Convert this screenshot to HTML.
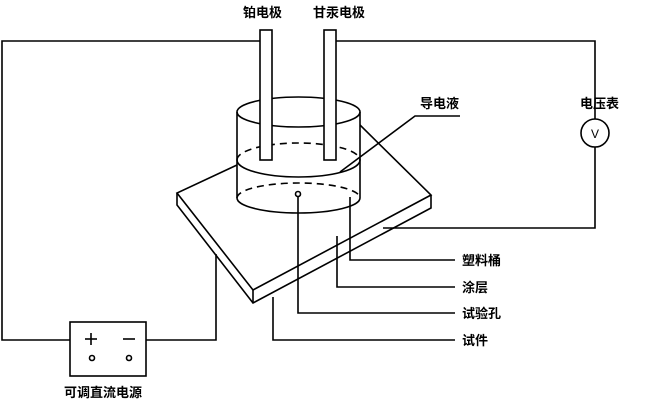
<!DOCTYPE html>
<html><head><style>
html,body{margin:0;padding:0;background:#fff;}
svg{display:block}
text{font-family:"Liberation Sans","Noto Sans CJK SC",sans-serif;font-size:13px;font-weight:bold;fill:#000}
</style></head><body>
<svg width="651" height="401" viewBox="0 0 651 401" xmlns="http://www.w3.org/2000/svg">
<g fill="none" stroke="#000" stroke-width="1.6">
<!-- wires -->
<polyline points="260,41 2,41 2,340 70,340"/>
<polyline points="336,41 595,41 595,119"/>
<polyline points="595,147 595,228 383,228"/>
<circle cx="595" cy="133" r="14"/>
<polyline points="146,340 216,340 216,254"/>
<!-- plate -->
<polyline points="237,165 177,193 253,290 431,195 360,125"/>
<polyline points="177,193 177,205 253,303 431,208 431,195"/>
<line x1="253" y1="290" x2="253" y2="303"/>
<!-- cylinder -->
<line x1="237" y1="112" x2="237" y2="198"/>
<line x1="360" y1="112" x2="360" y2="198"/>
<ellipse cx="298.5" cy="112" rx="61.5" ry="15"/>
<path d="M237,160 A61.5,17 0 0 0 360,160"/>
<path d="M237,160 A61.5,17 0 0 1 360,160" stroke-dasharray="7,5"/>
<path d="M237,198 A61.5,15 0 0 0 360,198"/>
<path d="M237,198 A61.5,15 0 0 1 360,198" stroke-dasharray="7,5"/>
<!-- electrodes -->
<rect x="260" y="30" width="12" height="130" fill="#fff"/>
<rect x="324" y="30" width="12" height="130" fill="#fff"/>
<!-- hole -->
<circle cx="298" cy="194" r="2.5"/>
<!-- leaders -->
<polyline points="340,172 415,116 460,116"/>
<polyline points="350,197 350,260 455,260"/>
<polyline points="337,236 337,287 455,287"/>
<polyline points="298,197 298,313 455,313"/>
<polyline points="273,297 273,340 455,340"/>
<!-- power supply -->
<rect x="70" y="322" width="76" height="54"/>
<circle cx="92" cy="358" r="2.5"/>
<circle cx="129" cy="358" r="2.5"/>
<line x1="85" y1="339" x2="97" y2="339"/>
<line x1="91" y1="333" x2="91" y2="345"/>
<line x1="123" y1="339" x2="135" y2="339"/>
</g>
<text x="595" y="138" text-anchor="middle" style="font-weight:normal;font-size:12px">V</text>
<text x="243" y="17">铂电极</text>
<text x="313" y="17">甘汞电极</text>
<text x="420" y="108">导电液</text>
<text x="580" y="108">电压表</text>
<text x="462" y="265">塑料桶</text>
<text x="462" y="292">涂层</text>
<text x="462" y="318">试验孔</text>
<text x="462" y="345">试件</text>
<text x="64" y="397">可调直流电源</text>
</svg>
</body></html>
